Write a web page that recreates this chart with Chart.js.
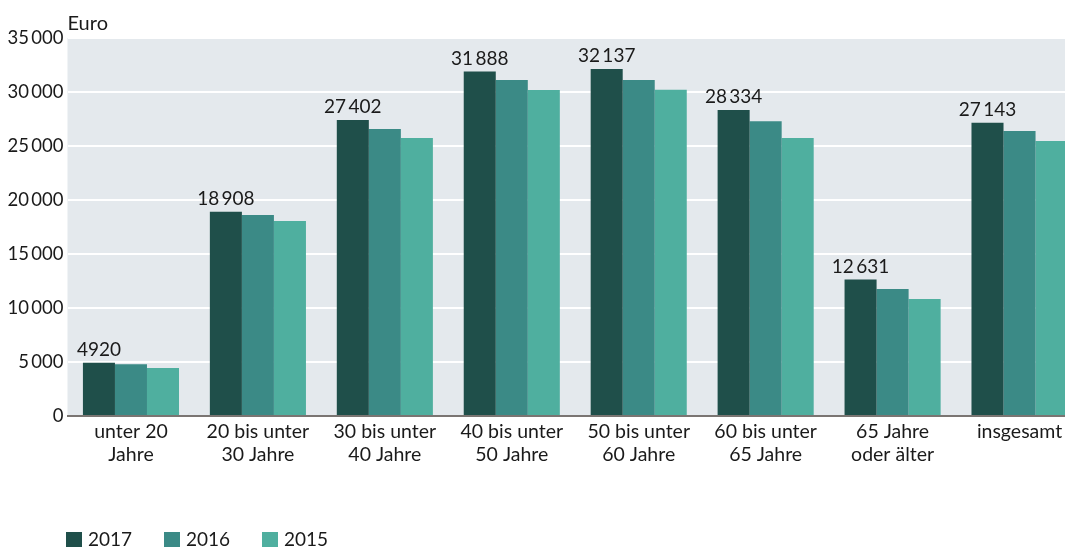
<!DOCTYPE html>
<html>
<head>
<meta charset="utf-8">
<script src="https://cdn.jsdelivr.net/npm/chart.js@4/dist/chart.umd.min.js"></script>
<style>
html,body{margin:0;padding:0;background:#fff;}
#wrap{width:1065px;height:547px;overflow:hidden;position:relative;}
canvas{display:block;}
</style>
</head>
<body>
<div id="wrap"><canvas id="c" width="1083" height="547"></canvas></div>
<script>
const categories = [
  ["unter 20", "Jahre"],
  ["20 bis unter", "30 Jahre"],
  ["30 bis unter", "40 Jahre"],
  ["40 bis unter", "50 Jahre"],
  ["50 bis unter", "60 Jahre"],
  ["60 bis unter", "65 Jahre"],
  ["65 Jahre", "oder älter"],
  ["insgesamt"]
];
const seriesNames = ["2017", "2016", "2015"];
const values2017 = [4920, 18908, 27402, 31888, 32137, 28334, 12631, 27143];
const values2016 = [4800, 18600, 26570, 31100, 31100, 27300, 11760, 26390];
const values2015 = [4440, 18050, 25740, 30190, 30200, 25740, 10830, 25460];
const colors = ["#1f4f4a", "#3b8a86", "#4faf9f"];
const yTicks = [0, 5000, 10000, 15000, 20000, 25000, 30000, 35000];
const unitLabel = "Euro";

const FONT = "Lato, 'Source Sans Pro', sans-serif";
const TXT = "#1a1a1a";
const THIN = "\u2009";

function fmtTick(v){
  const s = String(v);
  if (s.length <= 3) return s;
  return s.slice(0, s.length-3) + THIN + s.slice(s.length-3);
}
function fmtLabel(v){
  const s = String(v);
  if (s.length <= 4) return s;
  return s.slice(0, s.length-3) + THIN + s.slice(s.length-3);
}

const bgPlugin = {
  id: 'bg',
  beforeDraw(chart){
    const {ctx, chartArea:a} = chart;
    ctx.save();
    ctx.fillStyle = "#e4e9ed";
    ctx.fillRect(a.left, a.top, a.right-a.left, a.bottom-a.top);
    ctx.restore();
  }
};

const labelPlugin = {
  id: 'labels',
  afterDatasetsDraw(chart){
    const ctx = chart.ctx;
    const meta = chart.getDatasetMeta(0);
    ctx.save();
    ctx.font = "19px " + FONT;
    ctx.fillStyle = TXT;
    ctx.textAlign = "center";
    ctx.textBaseline = "alphabetic";
    meta.data.forEach((bar, i) => {
      ctx.fillText(fmtLabel(values2017[i]), bar.x, bar.y - 7);
    });
    // unit label
    ctx.font = "20px " + FONT;
    ctx.textAlign = "left";
    ctx.fillText(unitLabel, chart.chartArea.left, chart.chartArea.top - 8);
    // legend
    ctx.font = "19px " + FONT;
    const startX = 66, step = 98, boxY = 532;
    seriesNames.forEach((n, i) => {
      const x = startX + i*step;
      ctx.fillStyle = colors[i];
      ctx.fillRect(x, boxY, 16, 16);
      ctx.fillStyle = TXT;
      ctx.textAlign = "left";
      ctx.fillText(n, x + 22, 546);
    });
    ctx.restore();
  }
};

const chart = new Chart(document.getElementById('c'), {
  type: 'bar',
  data: {
    labels: categories,
    datasets: [
      {label: seriesNames[0], data: values2017, backgroundColor: colors[0]},
      {label: seriesNames[1], data: values2016, backgroundColor: colors[1]},
      {label: seriesNames[2], data: values2015, backgroundColor: colors[2]}
    ]
  },
  options: {
    responsive: false,
    animation: false,
    layout: {padding: {top: 38, right: 0, left: 0, bottom: 0}},
    datasets: {bar: {categoryPercentage: 0.757, barPercentage: 1.0, borderWidth: 0}},
    plugins: {legend: {display: false}, tooltip: {enabled: false}},
    scales: {
      x: {
        grid: {display: false, drawTicks: false},
        border: {display: true, color: "#7a7572", width: 2, z: 1},
        ticks: {font: {size: 19.5, family: FONT, lineHeight: 1.2}, color: TXT, padding: 4, maxRotation: 0, autoSkip: false},
        afterFit(s){ s.height = 131; }
      },
      y: {
        min: 0, max: 35000,
        afterBuildTicks(s){ s.ticks = yTicks.map(v => ({value: v})); },
        grid: {color: (c) => c.tick && c.tick.value === 0 ? 'rgba(0,0,0,0)' : '#ffffff', lineWidth: 2, drawTicks: false},
        border: {display: false},
        ticks: {font: {size: 18.5, family: FONT}, color: TXT, padding: 4, callback: (v) => fmtTick(v)},
        afterFit(s){ s.width = 67.5; }
      }
    }
  },
  plugins: [bgPlugin, labelPlugin]
});
</script>
</body>
</html>
